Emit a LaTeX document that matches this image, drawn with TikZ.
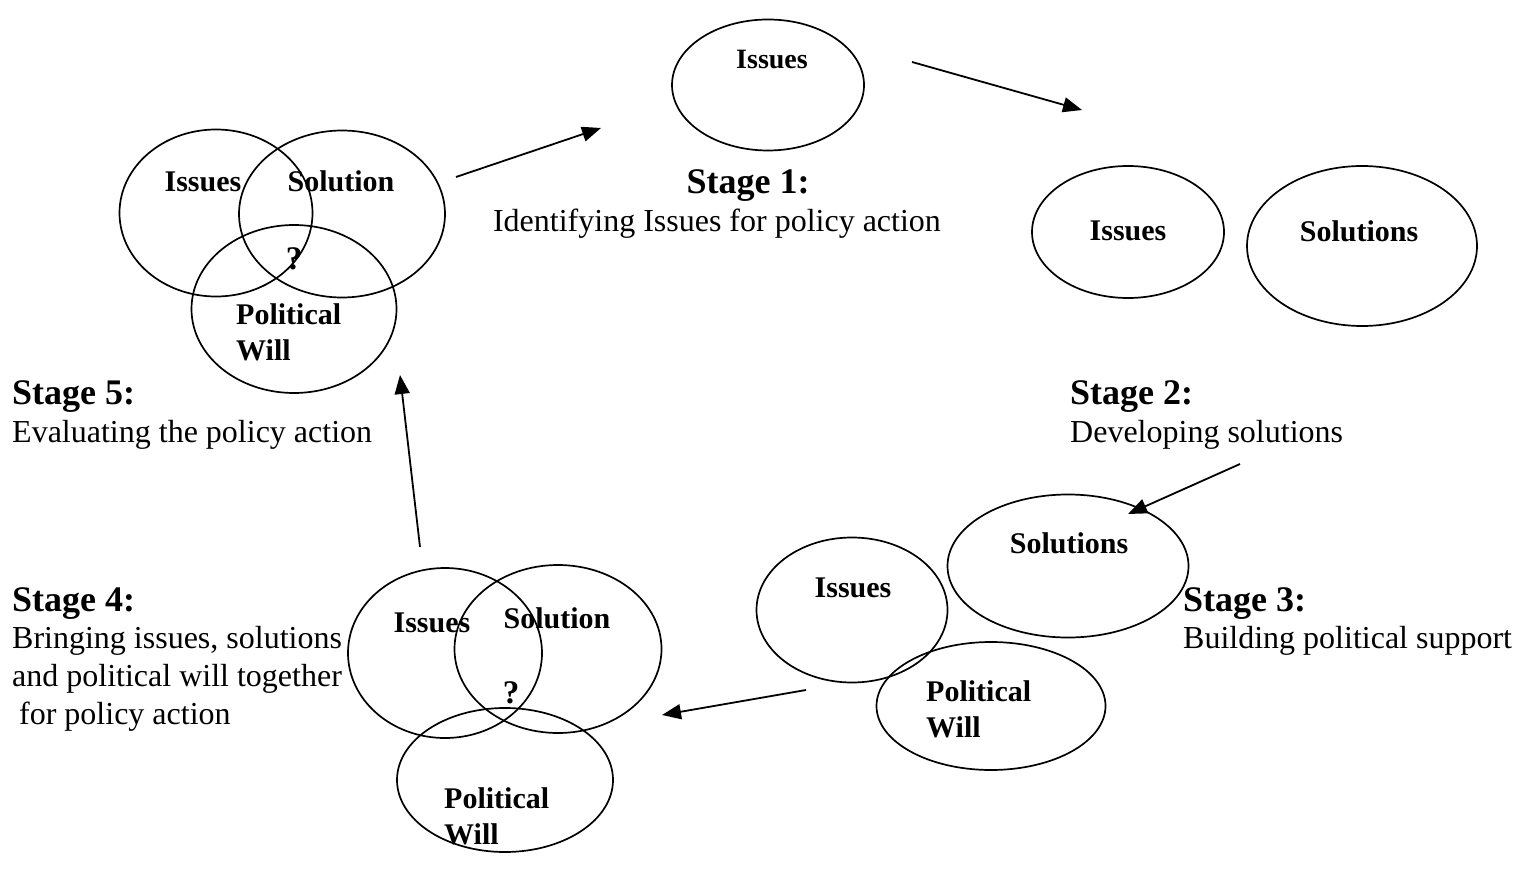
\documentclass[tikz,border=0pt]{standalone}
\usepackage{fontspec}
\setmainfont{Liberation Serif}
\usetikzlibrary{shapes.geometric,arrows.meta}

\tikzset{
  blob/.style={draw, ellipse, line width=1.7pt, inner sep=0pt},
  tag/.style={font=\fontsize{30}{36}\selectfont\bfseries, align=left, inner sep=0pt},
  stagehead/.style={font=\fontsize{36}{42}\selectfont\bfseries, inner sep=0pt},
  stagetext/.style={font=\fontsize{32}{38}\selectfont, align=left, inner sep=0pt},
  flow/.style={line width=1.8pt, -{Triangle[length=19pt,width=15pt]}}
}

\begin{document}
\begin{tikzpicture}[x=1pt, y=-1pt]
\useasboundingbox (0,0) rectangle (1517,877);

% stage 1
\node[blob, minimum width=192, minimum height=131] (s1iss) at (768,85) {};
\node[tag, font=\fontsize{28}{34}\selectfont\bfseries] (s1isst) at (772,60) {Issues};
\node[stagehead] (s1head) at (748,186) {Stage 1:};
\node[stagetext] (s1text) at (717,224) {Identifying Issues for policy action};

% stage 2
\node[blob, minimum width=192, minimum height=132] (s2iss) at (1128,232) {};
\node[blob, minimum width=230, minimum height=160] (s2sol) at (1362,246) {};
\node[tag] (s2isst) at (1128,231) {Issues};
\node[tag] (s2solt) at (1359,231) {Solutions};
\node[stagehead, anchor=west] (s2head) at (1070,397) {Stage 2:};
\node[stagetext, anchor=west] (s2text) at (1070,435) {Developing solutions};

% stage 3
\node[blob, minimum width=191, minimum height=145] (s3iss) at (852,610) {};
\node[blob, minimum width=241, minimum height=143] (s3sol) at (1068,566) {};
\node[blob, minimum width=229, minimum height=128] (s3pol) at (991,706) {};
\node[tag] (s3isst) at (853,588) {Issues};
\node[tag] (s3solt) at (1069,543) {Solutions};
\node[tag, anchor=west] (s3polt) at (926,709) {Political\\Will};
\node[stagehead, anchor=west] (s3head) at (1183,604) {Stage 3:};
\node[stagetext, anchor=west] (s3text) at (1183,641) {Building political support};

% stage 4
\node[blob, minimum width=194, minimum height=170] (s4iss) at (445,653) {};
\node[blob, minimum width=207, minimum height=168] (s4sol) at (558,649) {};
\node[blob, minimum width=216, minimum height=144] (s4pol) at (505,780) {};
\node[tag] (s4isst) at (432,623) {Issues};
\node[tag] (s4solt) at (557,618) {Solution};
\node[tag, font=\fontsize{33}{36}\selectfont\bfseries] (s4q) at (511,693) {?};
\node[tag, anchor=west] (s4polt) at (444,816) {Political\\Will};
\node[stagehead, anchor=west] (s4head) at (12,604) {Stage 4:};
\node[stagetext, anchor=west] (s4text) at (12,679) {Bringing issues, solutions\\and political will together\\\hspace*{7pt}for policy action};

% stage 5
\node[blob, minimum width=193, minimum height=167] (s5iss) at (216,213) {};
\node[blob, minimum width=206, minimum height=167] (s5sol) at (342,214) {};
\node[blob, minimum width=205, minimum height=168] (s5pol) at (294,309) {};
\node[tag] (s5isst) at (203,182) {Issues};
\node[tag] (s5solt) at (341,181) {Solution};
\node[tag, font=\fontsize{33}{36}\selectfont\bfseries] (s5q) at (294,259) {?};
\node[tag, anchor=west] (s5polt) at (236,332) {Political\\Will};
\node[stagehead, anchor=west] (s5head) at (12,397) {Stage 5:};
\node[stagetext, anchor=west] (s5text) at (12,435) {Evaluating the policy action};

% arrows
\coordinate (a1) at (456,177);
\coordinate (b1) at (601,128);
\coordinate (a2) at (912,62);
\coordinate (b2) at (1082,110);
\coordinate (a3) at (1240,464);
\coordinate (b3) at (1128,514);
\coordinate (a4) at (806,690);
\coordinate (b4) at (662,715);
\coordinate (a5) at (420,547);
\coordinate (b5) at (400,375);
\draw[flow] (a1) -- (b1);
\draw[flow] (a2) -- (b2);
\draw[flow] (a3) -- (b3);
\draw[flow] (a4) -- (b4);
\draw[flow] (a5) -- (b5);
\end{tikzpicture}
\end{document}
